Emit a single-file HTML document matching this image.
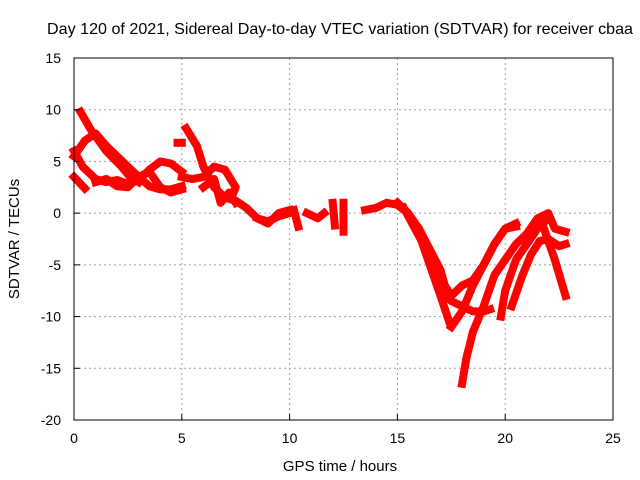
<!DOCTYPE html>
<html><head><meta charset="utf-8"><style>
body{margin:0;background:#fff}
svg{display:block;font-family:"Liberation Sans",sans-serif}
</style></head><body>
<svg id="chart" width="640" height="480">
<rect width="640" height="480" fill="#fff"/>
<g id="grid"></g>
<g id="marks"></g>
<rect x="74" y="58" width="539" height="362" fill="none" stroke="#000" stroke-width="1"/>
<g id="ticks"></g>
<text x="340" y="34" text-anchor="middle" font-size="16" textLength="586" lengthAdjust="spacingAndGlyphs">Day 120 of 2021, Sidereal Day-to-day VTEC variation (SDTVAR) for receiver cbaa</text>
<text x="340" y="471" text-anchor="middle" font-size="15">GPS time / hours</text>
<text x="19" y="239" text-anchor="middle" font-size="15" transform="rotate(-90 19 239)">SDTVAR / TECUs</text>
</svg>
<script>
const xTicks=[0,5,10,15,20,25];
const yTicks=[15,10,5,0,-5,-10,-15,-20];
const tracks=[
[[0.3,9.8],[0.8,8],[1.5,6],[2.2,4.5],[2.6,3.5],[3,3]],
[[0,5.5],[0.5,7],[1,7.7],[1.5,6.5],[2,5.5],[2.5,4.5],[3,3.5],[3.5,2.6],[4,2.3],[4.5,2.3],[5,2.6]],
[[0,6],[0.4,4.5],[1,3.3],[1.5,3],[2,3.2],[2.5,2.8],[3,3.2],[3.5,4.2],[4,5],[4.5,4.8],[5,4]],
[[0,3.5],[0.5,2.4]],
[[1,3],[1.5,3.3],[2,2.6],[2.5,2.5],[3,3.5],[3.5,4],[4,2.5],[4.5,2],[5,2.3]],
[[4.8,6.8],[5,6.8]],
[[5.2,8.2],[5.7,6.5],[6,4.5],[6.5,2.5],[7,1.5],[7.5,1.2],[8,0.5],[8.5,-0.5],[9,-0.8],[9.5,-0.3],[10,0]],
[[5,3.5],[5.5,3.3],[6,3.5],[6.5,4.5],[7,4.2],[7.5,2.5],[7.3,1.5]],
[[6,2.5],[6.5,3.3],[6.8,1],[7.2,2],[7.5,1]],
[[8.5,-0.5],[9,-1],[9.5,0],[10,0.3]],
[[10.2,0.3],[10.4,-1.3]],
[[10.8,0],[11.3,-0.5],[11.6,0]],
[[12,1],[12.1,-1.2]],
[[12.5,1],[12.5,-1.8]],
[[13.5,0.3],[14,0.5],[14.5,1],[15,0.8],[15.5,0],[16,-2],[16.5,-5],[17,-8],[17.4,-10.5]],
[[15,1],[15.5,0],[16,-1.5],[16.5,-3.5],[17,-5.5],[17.2,-7],[17.5,-8],[18,-7],[18.5,-6.5],[19,-5],[19.5,-3],[20,-1.5],[20.5,-1.3]],
[[15.3,0.5],[16.2,-3],[16.7,-6],[17,-7.5],[17.5,-8.5],[18,-9],[18.5,-9.5],[19,-9.5],[19.3,-9.3]],
[[17.5,-11],[18,-9.5],[18.5,-7],[19,-5],[19.5,-3],[20,-1.5],[20.5,-1]],
[[18,-16.5],[18.2,-14],[18.5,-11.5],[19,-9],[19.5,-6],[20,-4.5],[20.5,-3],[21,-2],[21.5,-0.5],[22,0],[22.3,-1.5],[22.8,-1.8]],
[[19.8,-10],[20,-7.5],[20.5,-4.5],[21,-3],[21.5,-1.5],[22,-0.5]],
[[20.3,-9],[20.8,-6],[21.2,-4],[21.6,-2.7],[22,-2.5],[22.5,-3.2],[22.8,-3]],
[[21.8,-1.5],[22.3,-4.5],[22.8,-8]]
];
const X=h=>74+h*539/25;
const Y=v=>58+(15-v)*362/35;
const NS="http://www.w3.org/2000/svg";
const grid=document.getElementById('grid'),ticks=document.getElementById('ticks'),marks=document.getElementById('marks');
function mk(tag,attrs,parent){const e=document.createElementNS(NS,tag);for(const k in attrs)e.setAttribute(k,attrs[k]);parent.appendChild(e);return e;}
xTicks.forEach(t=>{
 if(t>0&&t<25){const g=mk('line',{x1:X(t),x2:X(t),y1:58,y2:420,stroke:'#a0a0a0','stroke-dasharray':'2,3'},grid);
 
 }
 const l=mk('text',{x:X(t),y:443,'text-anchor':'middle','font-size':14},ticks);l.textContent=t;
 
 
 mk('line',{x1:X(t),x2:X(t),y1:420,y2:414,stroke:'#000'},ticks);
});
yTicks.forEach(t=>{
 if(t<15&&t>-20){const g=mk('line',{x1:74,x2:613,y1:Y(t),y2:Y(t),stroke:'#a0a0a0','stroke-dasharray':'2,3'},grid);
 
 }
 const l=mk('text',{x:61,y:Y(t)+5,'text-anchor':'end','font-size':14},ticks);l.textContent=t;
 
 
 mk('line',{x1:74,x2:80,y1:Y(t),y2:Y(t),stroke:'#000'},ticks);
});
tracks.forEach(tr=>{
 const p=mk('polyline',{points:tr.map(d=>X(d[0])+','+Y(d[1])).join(' '),fill:'none',stroke:'#ff0000','stroke-width':8,'stroke-linejoin':'round','stroke-linecap':'square'},marks);
 
 
});
</script>
</body></html>
